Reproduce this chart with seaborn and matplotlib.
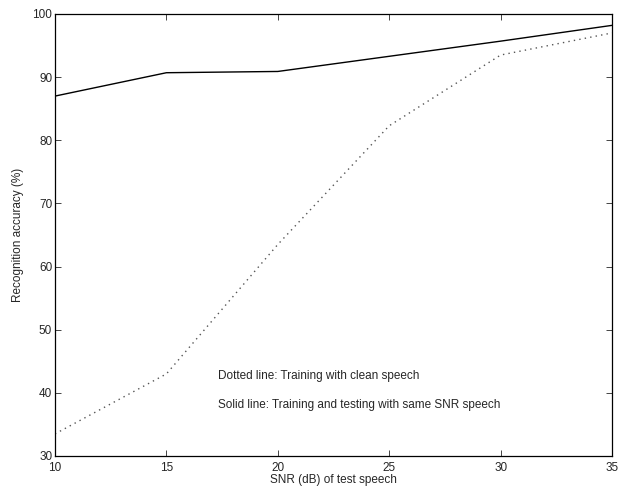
import matplotlib
matplotlib.use("Agg")
import matplotlib.pyplot as plt
import seaborn as sns
import pandas as pd

snr = [10, 15, 20, 25, 30, 35]
clean_training = [33.5, 43.0, 63.5, 82.3, 93.5, 97.0]
matched_training = [87.0, 90.7, 90.9, 93.3, 95.7, 98.2]
x_ticks = [10, 15, 20, 25, 30, 35]
y_ticks = [30, 40, 50, 60, 70, 80, 90, 100]

sns.set_style("ticks")
plt.rcParams['font.family'] = ['Liberation Sans', 'DejaVu Sans']
plt.rcParams['xtick.direction'] = 'in'
plt.rcParams['ytick.direction'] = 'in'

df = pd.DataFrame({"snr": snr, "clean": clean_training, "matched": matched_training})

fig = plt.figure(figsize=(6.18, 4.87), dpi=100)
ax = fig.add_axes([55/618, 1-456/487, (612-55)/618, (456-14)/487])

sns.lineplot(data=df, x="snr", y="matched", ax=ax, color="black", linewidth=1.0)
sns.lineplot(data=df, x="snr", y="clean", ax=ax, color="#555555", linewidth=1.0,
             linestyle=(0, (1, 3)))

ax.set_xlim(10, 35)
ax.set_ylim(30, 100)
ax.set_xticks(x_ticks)
ax.set_yticks(y_ticks)
ax.tick_params(axis='both', which='both', direction='in', length=4, width=0.6,
               labelsize=8.5, top=True, right=True, pad=2)
ax.tick_params(axis='x', pad=4)
for s in ax.spines.values():
    s.set_linewidth(0.9)
    s.set_color("black")
ax.set_xlabel("SNR (dB) of test speech", fontsize=8.5, labelpad=0)
ax.set_ylabel("Recognition accuracy (%)", fontsize=8.5, labelpad=6)

ax.text(17.3, 42.7, "Dotted line: Training with clean speech", fontsize=8.5, va='center')
ax.text(17.3, 38.1, "Solid line: Training and testing with same SNR speech", fontsize=8.5, va='center')

fig.savefig("out.png", dpi=100)
